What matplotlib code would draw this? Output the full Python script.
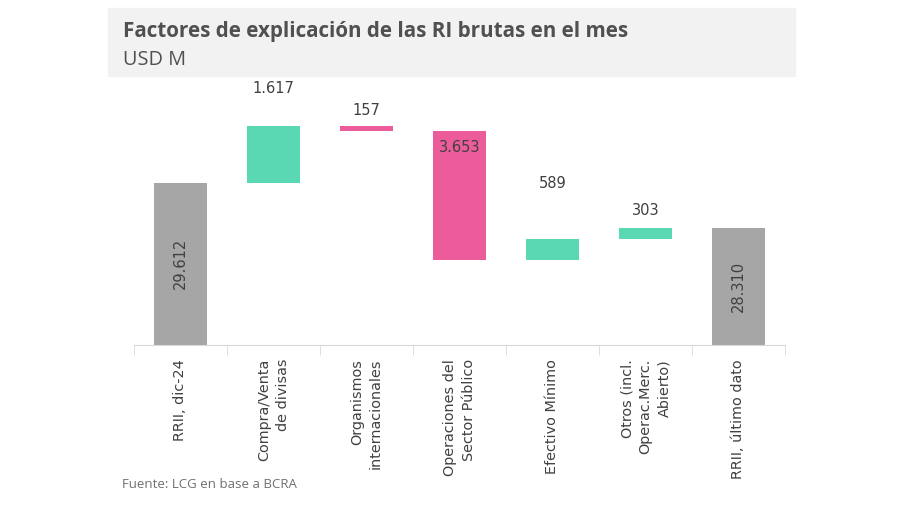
import numpy as np
import matplotlib.pyplot as plt
from matplotlib.patches import Rectangle

categorias = ["RRII, dic-24", "Compra/Venta\nde divisas", "Organismos\ninternacionales",
              "Operaciones del\nSector Público", "Efectivo Mínimo",
              "Otros (incl.\nOperac.Merc.\nAbierto)", "RRII, último dato"]
inicio = 29612
variaciones = [1617, -157, -3653, 589, 303]
final = 28310
etiquetas = ["29.612", "1.617", "157", "3.653", "589", "303", "28.310"]
# desplazamiento de la etiqueta respecto del tope de la barra (USD M)
offset_etiq = [1072, 447, -447, 1566, 496]

gris = "#A6A6A6"
verde = "#5AD8B3"
rosa = "#EC5C9B"
texto = "#404040"

fig = plt.figure(figsize=(9, 5.05), dpi=100)

# banda del titulo
fig.patches.append(Rectangle((108 / 900, 1 - 76 / 505), 687 / 900, 68 / 505,
                             transform=fig.transFigure, color="#F2F2F2", zorder=0))
fig.text(123 / 900, 1 - 32 / 505, "Factores de explicación de las RI brutas en el mes",
         fontsize=14.9, fontweight="bold", color="#505050", va="center", family="Open Sans")
fig.text(123 / 900, 1 - 60 / 505, "USD M", fontsize=14.3, color="#505050", va="center",
         family="Open Sans")
fig.text(122 / 900, 1 - 485 / 505, "Fuente: LCG en base a BCRA", fontsize=9.5,
         color="#707070", va="center", family="Open Sans")

ax = fig.add_axes([134 / 900, (505 - 345) / 505, 651 / 900, 264 / 505])
x = np.arange(len(categorias))
ancho = 0.57

# barras de totales
ax.bar(x[0], inicio, bottom=0, width=ancho, color=gris)
ax.bar(x[-1], final, bottom=0, width=ancho, color=gris)
ax.text(x[0], (25000 + inicio) / 2, etiquetas[0], rotation=90, ha="center", va="center",
        fontsize=10.5, color=texto)
ax.text(x[-1], (25000 + final) / 2, etiquetas[-1], rotation=90, ha="center", va="center",
        fontsize=10.5, color=texto)

nivel = inicio
for i, v in enumerate(variaciones):
    nuevo = nivel + v
    color = verde if v > 0 else rosa
    ax.bar(x[i + 1], abs(v), bottom=min(nivel, nuevo), width=ancho, color=color)
    tope = max(nivel, nuevo)
    ax.text(x[i + 1], tope + offset_etiq[i], etiquetas[i + 1], ha="center", va="center",
            fontsize=10.5, color=texto)
    nivel = nuevo

ax.set_xlim(-0.5, len(categorias) - 0.5)
ax.set_ylim(25000, 32500)
ax.set_yticks([])
for s in ["top", "right", "left"]:
    ax.spines[s].set_visible(False)
ax.spines["bottom"].set_color("#D9D9D9")
ax.set_xticks(x)
ax.set_xticklabels(categorias, rotation=90, fontsize=10.4, color=texto,
                   multialignment="right", va="top", ha="center", linespacing=1.4)
ax.set_xticks(np.arange(-0.5, len(categorias)), minor=True)
ax.tick_params(axis="x", which="major", length=0, pad=10)
ax.tick_params(axis="x", which="minor", length=7, color="#D9D9D9")

fig.savefig("out.png", dpi=100)
